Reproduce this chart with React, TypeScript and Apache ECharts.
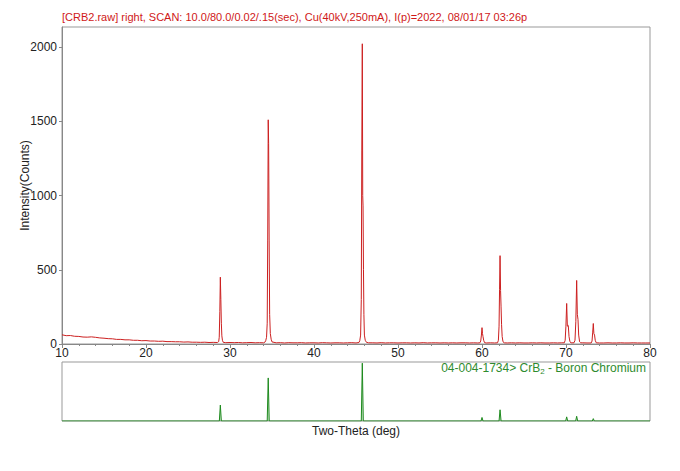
import React, { useEffect, useRef } from "react";
import * as echarts from "echarts";

const titleText =
  "[CRB2.raw] right, SCAN: 10.0/80.0/0.02/.15(sec), Cu(40kV,250mA), I(p)=2022, 08/01/17 03:26p";
const yTicks = [0, 500, 1000, 1500, 2000];
const xTicks = [10, 20, 30, 40, 50, 60, 70, 80];

// background counts, sampled every 0.5 deg starting at 10 deg
const bgStart = 10;
const bgStep = 0.5;
const bgCounts = [
  62, 56, 57, 52, 51, 47, 46, 48, 45, 41, 39, 36, 35, 31, 31, 28, 28, 25, 25, 22,
  23, 20, 20, 18, 19, 16, 16, 15, 15, 13, 14, 12, 12, 11, 12, 10, 11, 10, 11, 9,
  10, 9, 10, 8, 9, 10, 8, 9, 8, 9, 9, 8, 9, 7, 9, 8, 8, 9, 7, 8,
  8, 7, 9, 8, 7, 8, 8, 7, 8, 9, 7, 8, 7, 8, 8, 7, 9, 7, 8, 8,
  7, 8, 8, 7, 8, 7, 9, 7, 8, 8, 7, 8, 7, 8, 7, 8, 8, 7, 8, 7,
  8, 7, 8, 7, 7, 8, 7, 8, 7, 8, 7, 7, 8, 7, 8, 7, 7, 8, 7, 8,
  7, 8, 7, 7, 8, 7, 7, 8, 7, 7, 8, 7, 7, 8, 7, 7, 8, 7, 7, 7, 7,
];

// peak profiles [2theta, counts]
const peak28 = [[28.55, 10], [28.65, 16], [28.72, 45], [28.79, 220], [28.85, 450], [28.91, 300], [28.97, 140], [29.03, 55], [29.1, 25], [29.2, 11]];
const peak34 = [[34.15, 12], [34.25, 22], [34.35, 45], [34.43, 140], [34.49, 700], [34.55, 1510], [34.6, 1350], [34.66, 700], [34.72, 200], [34.8, 70], [34.9, 32], [35.0, 14]];
const peak45 = [[45.35, 10], [45.45, 22], [45.55, 60], [45.63, 300], [45.69, 1300], [45.75, 2022], [45.8, 1000], [45.84, 930], [45.89, 500], [45.94, 200], [46.0, 60], [46.1, 25], [46.25, 11]];
const peak60 = [[59.75, 8], [59.85, 20], [59.93, 60], [60.0, 110], [60.06, 70], [60.12, 50], [60.2, 25], [60.3, 9]];
const peak62 = [[61.85, 8], [61.95, 25], [62.03, 120], [62.09, 365], [62.15, 595], [62.21, 360], [62.27, 250], [62.33, 130], [62.4, 50], [62.5, 15], [62.65, 8]];
const peak70 = [[69.8, 8], [69.9, 25], [69.99, 120], [70.08, 273], [70.16, 120], [70.27, 125], [70.36, 50], [70.47, 15], [70.6, 8]];
const peak71 = [[70.95, 8], [71.07, 25], [71.17, 150], [71.27, 428], [71.35, 200], [71.43, 165], [71.51, 60], [71.62, 15], [71.75, 8]];
const peak73 = [[73.0, 7], [73.1, 20], [73.18, 80], [73.25, 138], [73.32, 70], [73.4, 60], [73.48, 25], [73.6, 8]];
const peaks = [peak28, peak34, peak45, peak60, peak62, peak70, peak71, peak73];

// reference pattern 04-004-1734 CrB2 (relative intensity, %)
const refPositions = [28.85, 34.55, 45.75, 60.0, 62.15, 70.08, 71.27, 73.25];
const refIntensities = [27, 73, 98, 6, 19, 7, 8, 4];

function buildScan(): number[][] {
  const pts: number[][] = [];
  bgCounts.forEach((c, i) => {
    const x = bgStart + i * bgStep;
    const inside = peaks.some((p) => x >= p[0][0] && x <= p[p.length - 1][0]);
    if (!inside) pts.push([x, c]);
  });
  peaks.forEach((p) => p.forEach((q) => pts.push([q[0], q[1]])));
  pts.sort((a, b) => a[0] - b[0]);
  return pts;
}

function buildRef(): number[][] {
  const pts: number[][] = [[10, 0]];
  refPositions.forEach((x, i) => {
    pts.push([x - 0.12, 0], [x, refIntensities[i]], [x + 0.12, 0]);
  });
  pts.push([80, 0]);
  return pts;
}

export default function App() {
  const ref = useRef<HTMLDivElement>(null);
  useEffect(() => {
    if (!ref.current) return;
    const chart = echarts.init(ref.current, null, { renderer: "svg" });
    const font = "Liberation Sans, Arial, sans-serif";
    chart.setOption({
      animation: false,
      backgroundColor: "#ffffff",
      textStyle: { fontFamily: font },
      graphic: [
        {
          type: "text",
          left: 62,
          top: 11,
          style: { text: titleText, fill: "#d01818", font: `11px ${font}` },
        },
        {
          type: "text",
          right: 34,
          top: 362,
          style: {
            text: "{a|04-004-1734> CrB}{s|2}{a| - Boron Chromium}",
            rich: {
              a: { fill: "#2e8b2e", fontSize: 12, fontFamily: font },
              s: { fill: "#2e8b2e", fontSize: 8, fontFamily: font, padding: [6, 0, 0, 0] },
            },
          },
        },
      ],
      grid: [
        { left: 62, right: 30, top: 27, height: 317, show: true, borderColor: "#999", borderWidth: 1, backgroundColor: "transparent" },
        { left: 62, right: 30, top: 362, height: 59, show: true, borderColor: "#999", borderWidth: 1, backgroundColor: "transparent" },
      ],
      xAxis: [
        {
          type: "value",
          gridIndex: 0,
          min: xTicks[0],
          max: xTicks[xTicks.length - 1],
          interval: 10,
          axisLine: { lineStyle: { color: "#888" } },
          axisTick: { length: 4, lineStyle: { color: "#888" } },
          minorTick: { show: true, splitNumber: 5, length: 2, lineStyle: { color: "#888" } },
          splitLine: { show: false },
          axisLabel: { color: "#222", fontSize: 12, margin: 3, fontFamily: font },
        },
        {
          type: "value",
          gridIndex: 1,
          min: xTicks[0],
          max: xTicks[xTicks.length - 1],
          interval: 10,
          axisLine: { show: false },
          axisTick: { show: false },
          splitLine: { show: false },
          axisLabel: { show: false },
          name: "Two-Theta (deg)",
          nameLocation: "middle",
          nameGap: 4,
          nameMoveOverlap: false,
          nameTextStyle: { color: "#222", fontSize: 12, fontFamily: font },
        },
      ],
      yAxis: [
        {
          type: "value",
          gridIndex: 0,
          min: yTicks[0],
          max: 2135,
          interval: 500,
          axisLine: { show: true, lineStyle: { color: "#888" } },
          axisTick: { show: true, length: 3, lineStyle: { color: "#888" } },
          splitLine: { show: false },
          axisLabel: {
            color: "#222",
            fontSize: 12,
            margin: 5,
            showMaxLabel: false,
            fontFamily: font,
            formatter: (v: number) => String(v),
          },
          name: "Intensity(Counts)",
          nameLocation: "middle",
          nameGap: 31,
          nameMoveOverlap: false,
          nameTextStyle: { color: "#222", fontSize: 12, fontFamily: font },
        },
        {
          type: "value",
          gridIndex: 1,
          min: 0,
          max: 100,
          axisLine: { show: false },
          axisTick: { show: false },
          splitLine: { show: false },
          axisLabel: { show: false },
        },
      ],
      series: [
        {
          type: "line",
          xAxisIndex: 0,
          yAxisIndex: 0,
          data: buildScan(),
          showSymbol: false,
          symbol: "none",
          lineStyle: { color: "#cc2020", width: 1 },
        },
        {
          type: "line",
          xAxisIndex: 1,
          yAxisIndex: 1,
          data: buildRef(),
          showSymbol: false,
          symbol: "none",
          lineStyle: { color: "#1e8a1e", width: 1 },
          areaStyle: { color: "rgba(40,140,40,0.35)" },
        },
      ],
    });
    return () => chart.dispose();
  }, []);
  return (
    <div
      ref={ref}
      style={{ position: "fixed", left: 0, top: 0, width: 680, height: 471 }}
    />
  );
}
